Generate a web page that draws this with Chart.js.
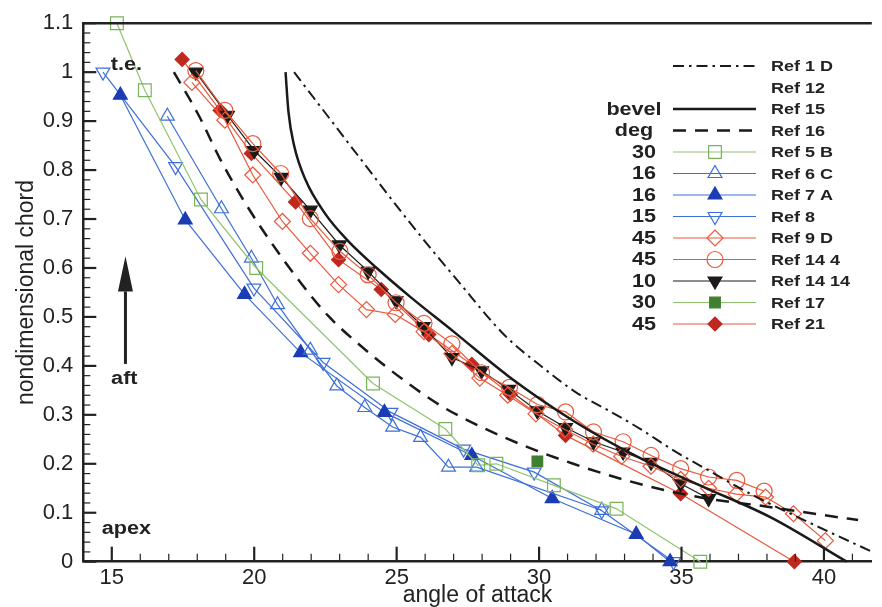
<!DOCTYPE html>
<html>
<head>
<meta charset="utf-8">
<script src="https://cdn.jsdelivr.net/npm/chart.js@4.4.1/dist/chart.umd.min.js"></script>
<style>
  html, body { margin: 0; padding: 0; background: #fff; }
  canvas { display: block; }
</style>
</head>
<body>
<canvas id="chart" width="882" height="607"></canvas>
<script>
// axis range + labelled ticks
const xMin = 14, xMax = 41.68;
const yMin = 0, yMax = 1.1;
const xTicks = [15, 20, 25, 30, 35, 40];
const yTicks = [0, 0.1, 0.2, 0.3, 0.4, 0.5, 0.6, 0.7, 0.8, 0.9, 1, 1.1];

// bevel angle column of the legend (deg)
const bevelLabels = ['', '', 'bevel', 'deg', '30', '16', '16', '15', '45', '45', '10', '30', '45'];

// theory curves
const ref1D = [[21.4,1.0],[23.4,0.848],[25.43,0.695],[27.2,0.57],[28.8,0.462],[30.17,0.395],[31.32,0.345],[32.4,0.31],[33.53,0.272],[34.7,0.228],[35.84,0.19],[37.57,0.134],[39.3,0.085],[41.7,0.02]];
const ref12 = [];
const ref15 = [[21.1,1.0],[21.2,0.92],[21.4,0.85],[21.8,0.78],[22.5,0.71],[23.3,0.655],[24.3,0.6],[25.5,0.54],[27.0,0.47],[28.9,0.38],[31.2,0.288],[33.5,0.213],[35.8,0.152],[38.15,0.09],[40.8,0.0]];
const ref16 = [[17.18,1.0],[18.05,0.912],[18.8,0.823],[19.66,0.735],[20.55,0.656],[21.55,0.576],[22.6,0.502],[23.88,0.434],[25.2,0.373],[26.54,0.319],[27.98,0.275],[29.6,0.234],[31.2,0.2],[32.95,0.168],[34.5,0.145],[36.0,0.128],[37.7,0.115],[40.0,0.095],[41.2,0.085]];

// experiments
const ref5B = [[15.18,1.1],[16.16,0.963],[18.13,0.74],[20.07,0.6],[24.17,0.364],[26.71,0.271],[27.86,0.197],[28.5,0.2],[30.52,0.156],[32.72,0.108],[35.66,0.0]];
const ref6C = [[16.95,0.91],[18.85,0.721],[19.9,0.62],[20.82,0.525],[21.97,0.432],[22.9,0.359],[23.88,0.315],[24.86,0.275],[25.84,0.254],[26.82,0.193],[27.81,0.193],[32.2,0.105]];
const ref7A = [[15.3,0.953],[17.58,0.698],[19.66,0.546],[21.63,0.427],[24.57,0.305],[27.64,0.217],[30.46,0.129],[33.41,0.056],[34.6,0.0]];
const ref8 = [[14.69,1.0],[17.24,0.807],[19.99,0.559],[22.42,0.407],[24.8,0.305],[27.35,0.23],[29.83,0.183],[32.2,0.104],[34.72,0.0]];
const ref9D = [[17.81,0.979],[18.97,0.902],[19.95,0.79],[20.99,0.695],[21.97,0.63],[22.96,0.566],[23.94,0.515],[24.95,0.505],[25.96,0.47],[26.94,0.425],[27.92,0.375],[28.9,0.34],[29.89,0.302],[30.9,0.27],[31.9,0.24],[32.9,0.215],[33.93,0.195],[34.97,0.168],[35.95,0.15],[36.92,0.138],[37.95,0.132],[38.93,0.098],[40.05,0.043]];
const ref14_4 = [[17.95,1.003],[18.97,0.922],[19.95,0.854],[20.93,0.793],[21.97,0.701],[23.01,0.634],[24.0,0.586],[24.98,0.529],[25.96,0.487],[26.94,0.445],[27.98,0.386],[28.96,0.356],[29.94,0.321],[30.93,0.306],[31.91,0.265],[32.95,0.245],[33.93,0.217],[34.97,0.19],[35.95,0.173],[36.94,0.166],[37.9,0.144]];
const ref14_14 = [[17.95,1.0],[19.06,0.912],[20.0,0.84],[20.95,0.785],[21.97,0.718],[22.99,0.647],[24.0,0.593],[24.98,0.533],[25.93,0.48],[26.94,0.417],[27.98,0.39],[28.93,0.352],[29.94,0.308],[30.93,0.274],[31.91,0.245],[32.95,0.224],[33.93,0.203],[34.97,0.159],[35.95,0.129]];
const ref17 = [[29.94,0.205]];
const ref21 = [[17.47,1.026],[18.8,0.922],[19.9,0.834],[21.45,0.735],[22.96,0.617],[24.46,0.556],[26.13,0.464],[27.64,0.403],[28.99,0.342],[30.93,0.258],[34.97,0.139],[38.96,0.0]];

const FONT = '"Liberation Sans", Arial, Helvetica, sans-serif';
const ink = '#222';
const black = '#1a1a1a';
const blue = '#3d6fd8';
const darkBlue = '#1c3cb5';
const green = '#8fc46f';
const darkGreen = '#3f7f2d';
const orange = '#e8583c';
const darkRed = '#c0281f';
const none = 'rgba(0,0,0,0)';

Chart.defaults.font.family = FONT;
Chart.defaults.color = ink;

function pts(arr) {
  return arr.map(p => ({ x: p[0], y: p[1] }));
}

function series(label, data, o) {
  return Object.assign({
    label: label,
    data: pts(data),
    showLine: true,
    clip: false,
    borderWidth: 1.2,
    tension: 0,
    pointRadius: 0,
    pointHoverRadius: 0,
    pointBorderWidth: 1.2,
    pointRotation: 0,
    pointBackgroundColor: none
  }, o);
}

const datasets = [
  series('Ref 1 D', ref1D, { borderColor: black, borderWidth: 2, borderDash: [11, 5, 2.5, 5], cubicInterpolationMode: 'monotone' }),
  series('Ref 12', ref12, { borderColor: none, borderWidth: 0 }),
  series('Ref 15', ref15, { borderColor: black, borderWidth: 2.5, cubicInterpolationMode: 'monotone' }),
  series('Ref 16', ref16, { borderColor: black, borderWidth: 2.5, borderDash: [13, 9], cubicInterpolationMode: 'monotone' }),
  series('Ref 5 B', ref5B, { borderColor: green, pointStyle: 'rect', pointRadius: 9, pointBorderColor: '#7ab45a' }),
  series('Ref 6 C', ref6C, { borderColor: blue, pointStyle: 'triangle', pointRadius: 8, pointBorderColor: blue }),
  series('Ref 7 A', ref7A, { borderColor: blue, pointStyle: 'triangle', pointRadius: 8, pointBorderColor: darkBlue, pointBackgroundColor: darkBlue }),
  series('Ref 8', ref8, { borderColor: blue, pointStyle: 'triangle', pointRotation: 180, pointRadius: 8, pointBorderColor: blue }),
  series('Ref 9 D', ref9D, { borderColor: orange, pointStyle: 'rectRot', pointRadius: 8, pointBorderColor: orange }),
  series('Ref 14 4', ref14_4, { borderColor: orange, pointStyle: 'circle', pointRadius: 8, pointBorderColor: orange }),
  series('Ref 14 14', ref14_14, { borderColor: black, pointStyle: 'triangle', pointRotation: 180, pointRadius: 8, pointBorderColor: black, pointBackgroundColor: black }),
  series('Ref 17', ref17, { borderColor: green, showLine: false, pointStyle: 'rect', pointRadius: 7.5, pointBorderColor: darkGreen, pointBackgroundColor: darkGreen }),
  series('Ref 21', ref21, { borderColor: orange, pointStyle: 'rectRot', pointRadius: 7, pointBorderColor: darkRed, pointBackgroundColor: darkRed })
];

// text squeezed like the scanned figure (wider than tall)
function wideText(ctx, text, x, y, font, align, sx) {
  ctx.save();
  ctx.font = font;
  ctx.textAlign = align;
  ctx.textBaseline = 'middle';
  ctx.translate(x, y);
  ctx.scale(sx, 1);
  ctx.fillText(text, 0, 0);
  ctx.restore();
}

// frame on top + inward major/minor ticks
const frameTicks = {
  id: 'frameTicks',
  afterDraw(chart) {
    const { ctx, chartArea: a, scales: { x, y } } = chart;
    ctx.save();
    ctx.strokeStyle = ink;
    ctx.lineWidth = 2.5;
    ctx.beginPath();
    ctx.moveTo(a.left - 1, a.top);
    ctx.lineTo(a.right, a.top);
    ctx.stroke();
    for (let v = Math.ceil(xMin); v <= xMax; v++) {
      const major = v % 5 === 0;
      const px = x.getPixelForValue(v);
      ctx.lineWidth = major ? 2.2 : 1.2;
      ctx.beginPath();
      ctx.moveTo(px, a.bottom);
      ctx.lineTo(px, a.bottom - (major ? 15 : 8));
      ctx.stroke();
    }
    for (let i = 0; i <= 55; i++) {
      const major = i % 5 === 0;
      const py = y.getPixelForValue(i * 0.02);
      ctx.lineWidth = major ? 2.2 : 1.2;
      ctx.beginPath();
      ctx.moveTo(a.left, py);
      ctx.lineTo(a.left + (major ? 13 : 7), py);
      ctx.stroke();
    }
    ctx.restore();
  }
};

// t.e. / aft arrow / apex
const notes = {
  id: 'notes',
  afterDraw(chart) {
    const { ctx, scales: { x, y } } = chart;
    const bold = 'bold 18px ' + FONT;
    ctx.save();
    ctx.fillStyle = ink;
    wideText(ctx, 't.e.', x.getPixelForValue(15.51), y.getPixelForValue(1.015), bold, 'center', 1.2);
    wideText(ctx, 'aft', x.getPixelForValue(15.44), y.getPixelForValue(0.373), bold, 'center', 1.2);
    wideText(ctx, 'apex', x.getPixelForValue(15.51), y.getPixelForValue(0.066), bold, 'center', 1.2);
    const ax = x.getPixelForValue(15.48);
    const tip = y.getPixelForValue(0.624);
    const base = y.getPixelForValue(0.552);
    const tail = y.getPixelForValue(0.404);
    ctx.strokeStyle = ink;
    ctx.lineWidth = 3;
    ctx.beginPath();
    ctx.moveTo(ax, tail);
    ctx.lineTo(ax, base);
    ctx.stroke();
    ctx.beginPath();
    ctx.moveTo(ax, tip);
    ctx.lineTo(ax - 7.5, base);
    ctx.lineTo(ax + 7.5, base);
    ctx.closePath();
    ctx.fill();
    ctx.restore();
  }
};

// legend in the figure's own layout: angle | line sample | name
const refLegend = {
  id: 'refLegend',
  afterDraw(chart) {
    const ctx = chart.ctx;
    chart.data.datasets.forEach((ds, i) => {
      const yy = 66 + i * 21.5;
      ctx.save();
      if (ds.borderWidth > 0) {
        ctx.strokeStyle = ds.borderColor;
        ctx.lineWidth = ds.showLine ? ds.borderWidth : 1;
        ctx.setLineDash(ds.borderDash || []);
        ctx.beginPath();
        ctx.moveTo(673, yy);
        ctx.lineTo(756, yy);
        ctx.stroke();
      }
      ctx.setLineDash([]);
      if (ds.pointRadius > 0) {
        ctx.strokeStyle = ds.pointBorderColor;
        ctx.fillStyle = ds.pointBackgroundColor;
        ctx.lineWidth = ds.pointBorderWidth;
        Chart.helpers.drawPoint(ctx, {
          pointStyle: ds.pointStyle,
          radius: ds.pointRadius,
          rotation: ds.pointRotation,
          borderWidth: ds.pointBorderWidth
        }, 715, yy);
      }
      ctx.fillStyle = ink;
      wideText(ctx, ds.label, 771, yy + 1, 'bold 15px ' + FONT, 'left', 1.2);
      const b = bevelLabels[i];
      if (b) {
        const numeric = !isNaN(Number(b));
        wideText(ctx, b, numeric ? 644 : 634, yy + 1, 'bold 18px ' + FONT, 'center', 1.2);
      }
      ctx.restore();
    });
  }
};

new Chart(document.getElementById('chart'), {
  type: 'scatter',
  data: { datasets: datasets },
  options: {
    responsive: false,
    animation: false,
    events: [],
    layout: { padding: { top: 20.7, right: 0, left: 0, bottom: 0 } },
    plugins: {
      legend: { display: false },
      tooltip: { enabled: false }
    },
    scales: {
      x: {
        type: 'linear',
        min: xMin,
        max: xMax,
        afterBuildTicks: s => { s.ticks = xTicks.map(v => ({ value: v })); },
        afterFit: s => { s.height = 45.3; },
        grid: { display: false, drawTicks: false },
        border: { display: true, color: ink, width: 2.5 },
        ticks: { font: { size: 22 }, color: ink, padding: 3, maxRotation: 0, callback: v => String(v) },
        title: { display: true, text: 'angle of attack', font: { size: 23 }, color: ink, padding: { top: 0, bottom: -2 } }
      },
      y: {
        type: 'linear',
        min: yMin,
        max: yMax,
        afterBuildTicks: s => { s.ticks = yTicks.map(v => ({ value: v })); },
        afterFit: s => { s.width = 83.3; },
        grid: { display: false, drawTicks: false },
        border: { display: true, color: ink, width: 2.5 },
        ticks: { font: { size: 22 }, color: ink, padding: 10, callback: v => String(Number(v.toFixed(1))) },
        title: { display: true, text: 'nondimensional chord', font: { size: 23 }, color: ink, padding: { top: 13, bottom: 0 } }
      }
    }
  },
  plugins: [frameTicks, notes, refLegend]
});
</script>
</body>
</html>
